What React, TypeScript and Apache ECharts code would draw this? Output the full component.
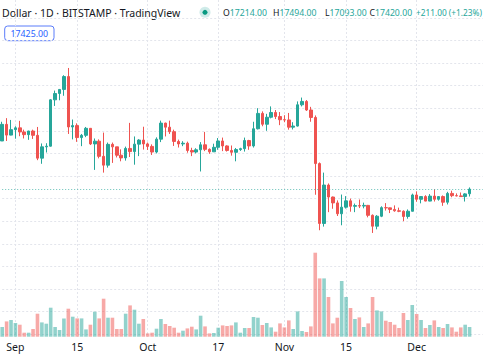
import React, { useEffect, useRef } from "react";
import * as echarts from "echarts";

const dates = [
  "2022-08-29", "2022-08-30", "2022-08-31",
  "2022-09-01", "2022-09-02", "2022-09-03", "2022-09-04", "2022-09-05", "2022-09-06", "2022-09-07", "2022-09-08", "2022-09-09", "2022-09-10",
  "2022-09-11", "2022-09-12", "2022-09-13", "2022-09-14", "2022-09-15", "2022-09-16", "2022-09-17", "2022-09-18", "2022-09-19", "2022-09-20",
  "2022-09-21", "2022-09-22", "2022-09-23", "2022-09-24", "2022-09-25", "2022-09-26", "2022-09-27", "2022-09-28", "2022-09-29", "2022-09-30",
  "2022-10-01", "2022-10-02", "2022-10-03", "2022-10-04", "2022-10-05", "2022-10-06", "2022-10-07", "2022-10-08", "2022-10-09", "2022-10-10",
  "2022-10-11", "2022-10-12", "2022-10-13", "2022-10-14", "2022-10-15", "2022-10-16", "2022-10-17", "2022-10-18", "2022-10-19", "2022-10-20",
  "2022-10-21", "2022-10-22", "2022-10-23", "2022-10-24", "2022-10-25", "2022-10-26", "2022-10-27", "2022-10-28", "2022-10-29", "2022-10-30", "2022-10-31",
  "2022-11-01", "2022-11-02", "2022-11-03", "2022-11-04", "2022-11-05", "2022-11-06", "2022-11-07", "2022-11-08", "2022-11-09", "2022-11-10",
  "2022-11-11", "2022-11-12", "2022-11-13", "2022-11-14", "2022-11-15", "2022-11-16", "2022-11-17", "2022-11-18", "2022-11-19", "2022-11-20",
  "2022-11-21", "2022-11-22", "2022-11-23", "2022-11-24", "2022-11-25", "2022-11-26", "2022-11-27", "2022-11-28", "2022-11-29", "2022-11-30",
  "2022-12-01", "2022-12-02", "2022-12-03", "2022-12-04", "2022-12-05", "2022-12-06", "2022-12-07", "2022-12-08", "2022-12-09", "2022-12-10",
  "2022-12-11", "2022-12-12", "2022-12-13",
];

const opens = [
  19550, 20285, 19810, 20050, 20130, 19950, 19830, 19990, 19800, 18790,
  19290, 19320, 21370, 21650, 21830, 22400, 20170, 20230, 19700, 19800,
  20110, 19420, 19540, 18870, 18480, 19400, 19290, 18920, 18800, 19220,
  19080, 19410, 19590, 19420, 19310, 19060, 19630, 20340, 20160, 19960,
  19530, 19420, 19450, 19130, 19060, 19160, 19380, 19180, 19070, 19270,
  19550, 19330, 19130, 19050, 19170, 19210, 19570, 19330, 20090, 20770,
  20290, 20600, 20810, 20630, 20490, 20480, 20160, 20210, 21150, 21300,
  20920, 20590, 18550, 15900, 17600, 17070, 16810, 16330, 16620, 16900,
  16660, 16690, 16670, 16700, 16260, 15780, 16220, 16600, 16590, 16520,
  16460, 16440, 16210, 16440, 17160, 16970, 17090, 16890, 17110, 16970,
  17090, 16840, 17230, 17130, 17120, 17090, 17214,
];
const highs = [
  20400, 20560, 20480, 20200, 20440, 20050, 20000, 20050, 20170, 19440,
  19450, 21400, 21780, 21850, 22460, 22780, 20500, 20330, 19860, 20170,
  20110, 19660, 19620, 19920, 19480, 19480, 19290, 19180, 19300, 20350,
  19750, 19630, 20180, 19480, 19400, 19710, 20450, 20360, 20450, 20050,
  19610, 19540, 19520, 19250, 19230, 19500, 19950, 19220, 19430, 19680,
  19700, 19360, 19350, 19240, 19250, 19700, 19600, 20400, 21000, 20860,
  20750, 21080, 20920, 20830, 20690, 20790, 20380, 21300, 21470, 21360,
  21060, 20680, 18600, 18150, 17670, 17090, 16920, 17180, 17110, 17000,
  16780, 16960, 16820, 16720, 16300, 16270, 16660, 16800, 16600, 16700,
  16600, 16480, 16520, 17220, 17320, 17100, 17150, 17200, 17410, 17100,
  17140, 17300, 17350, 17230, 17270, 17240, 17494,
];
const lows = [
  19550, 19550, 19800, 19650, 19760, 19660, 19600, 19640, 18700, 18540,
  19040, 19300, 21100, 21350, 21550, 19860, 19620, 19510, 19320, 19720,
  19370, 18270, 18780, 18150, 18370, 18580, 18820, 18650, 18680, 18840,
  18500, 18880, 19170, 19150, 18930, 19000, 19500, 19750, 19860, 19330,
  19260, 19320, 19030, 18880, 19000, 18200, 19100, 18980, 19070, 19160,
  19100, 19080, 18900, 18650, 19110, 19080, 19160, 19260, 20060, 20200,
  20000, 20550, 20520, 20250, 20380, 20050, 20060, 20190, 21080, 20880,
  20400, 17170, 15600, 15760, 16400, 16550, 16230, 15820, 16560, 16420,
  16400, 16580, 16570, 16170, 15480, 15640, 16180, 16470, 16360, 16420,
  16400, 16000, 16110, 16430, 16860, 16790, 16880, 16880, 16870, 16910,
  16680, 16740, 17060, 17100, 17070, 16870, 17093,
];
const closes = [
  20285, 19810, 20050, 20130, 19950, 19830, 19990, 19800, 18790, 19290,
  19320, 21370, 21650, 21830, 22400, 20170, 20230, 19700, 19800, 20110,
  19420, 19540, 18870, 18480, 19400, 19290, 18920, 18800, 19220, 19080,
  19410, 19590, 19420, 19310, 19060, 19630, 20340, 20160, 19960, 19530,
  19420, 19450, 19130, 19060, 19160, 19380, 19180, 19070, 19270, 19550,
  19330, 19130, 19050, 19170, 19210, 19570, 19330, 20090, 20770, 20290,
  20600, 20810, 20630, 20490, 20480, 20160, 20210, 21150, 21300, 20920,
  20590, 18550, 15900, 17600, 17070, 16810, 16330, 16620, 16900, 16660,
  16690, 16670, 16700, 16260, 15780, 16220, 16600, 16590, 16520, 16460,
  16440, 16210, 16440, 17160, 16970, 17090, 16890, 17110, 16970, 17090,
  16840, 17230, 17130, 17120, 17090, 17209, 17420,
];
const volumes = [
  3880, 6120, 6680, 5480, 4800, 1600, 1600, 3080, 9200, 5720,
  5200, 11600, 3880, 2680, 7320, 11200, 8000, 7320, 7320, 2920,
  4800, 10000, 7320, 15200, 7600, 7600, 3080, 3080, 9200, 12520,
  10800, 5200, 7080, 1320, 1600, 3200, 7080, 5080, 4280, 3600,
  1600, 2400, 3320, 4000, 2920, 8400, 4120, 1320, 1480, 3600,
  4520, 4280, 4520, 5720, 1600, 3480, 3480, 7880, 7600, 4680,
  5480, 3720, 2000, 5320, 3720, 6520, 3080, 10120, 2280, 1880,
  4120, 33600, 23320, 23320, 15880, 5320, 7600, 22280, 15880, 11480,
  7080, 7720, 3880, 5320, 15880, 10520, 10120, 6400, 5880, 4800,
  3480, 9480, 6680, 12680, 9080, 6680, 3480, 4680, 6520, 3880,
  3480, 5080, 3720, 2000, 3720, 4800, 3880,
];

const tickDates = ["2022-09-01", "2022-09-15", "2022-10-01", "2022-10-17", "2022-11-01", "2022-11-15", "2022-12-01"];
const tickTexts = ["Sep", "15", "Oct", "17", "Nov", "15", "Dec"];
const padSlots = ["pad-1", "pad-2", "pad-3"];
const headerTitle = "Dollar · 1D · BITSTAMP · TradingView";
const markerPrice = 17425;

const UP = "#26a69a";
const DOWN = "#ef5350";
const VOL_UP = "rgba(38,166,154,0.5)";
const VOL_DOWN = "rgba(239,83,80,0.5)";
const TEXT = "#131722";
const FONT = "Noto Sans";
const VAL_SIZE = 8.7;

export default function App() {
  const ref = useRef<HTMLDivElement>(null);

  useEffect(() => {
    document.body.style.margin = "0";
    const chart = echarts.init(ref.current!, null, { renderer: "svg" });
    const cats = dates.concat(padSlots);
    const ohlc = dates.map((_, i) => [opens[i], closes[i], lows[i], highs[i]]);
    const vol = dates.map((_, i) => ({
      value: volumes[i],
      itemStyle: { color: closes[i] >= opens[i] ? VOL_UP : VOL_DOWN },
    }));
    const isTick = (_idx: number, val: string) => tickDates.indexOf(val) >= 0;
    const n = dates.length - 1;
    const lastO = opens[n], lastH = highs[n], lastL = lows[n], lastC = closes[n];
    const chg = lastC - closes[n - 1];
    const pct = (chg / closes[n - 1]) * 100;
    const sign = chg >= 0 ? "+" : "";

    const tok = (x: number, label: string, value: string) => ({
      type: "text",
      x,
      y: 12.5,
      style: {
        text: `{l|${label}}{v|${value}}`,
        fontSize: VAL_SIZE,
        fontFamily: FONT,
        verticalAlign: "middle",
        rich: {
          l: { fill: TEXT, fontSize: VAL_SIZE, fontFamily: FONT },
          v: { fill: UP, fontSize: VAL_SIZE, fontFamily: FONT },
        },
      },
    });

    chart.setOption({
      animation: false,
      backgroundColor: "#ffffff",
      grid: [
        { left: 2.2, right: 2.2, top: 0, bottom: 23.3 },
        { left: 2.2, right: 2.2, top: 17.8, bottom: 25.8 },
      ],
      xAxis: [
        {
          type: "category",
          gridIndex: 0,
          data: cats,
          boundaryGap: false,
          axisLine: { show: false },
          axisTick: { show: false },
          axisLabel: {
            interval: isTick,
            formatter: (v: string) => tickTexts[tickDates.indexOf(v)] ?? "",
            color: TEXT,
            fontSize: 10.5,
            fontFamily: FONT,
            margin: 5,
          },
          splitLine: {
            show: true,
            interval: isTick,
            lineStyle: { color: "#e3e5ec", type: [2, 2], width: 1 },
          },
        },
        {
          type: "category",
          gridIndex: 1,
          data: cats,
          boundaryGap: false,
          show: false,
        },
      ],
      yAxis: [
        {
          type: "value",
          gridIndex: 0,
          min: 0,
          max: 134680,
          show: false,
          splitLine: { show: false },
        },
        {
          type: "value",
          gridIndex: 1,
          min: 11000,
          max: 25000,
          interval: 1000,
          position: "right",
          axisLine: { show: false },
          axisTick: { show: false },
          axisLabel: { show: false },
          splitLine: { show: true, lineStyle: { color: "#e3e5ec", type: [2, 2], width: 1 } },
        },
      ],
      series: [
        {
          type: "bar",
          xAxisIndex: 0,
          yAxisIndex: 0,
          data: vol,
          barWidth: 3.6,
          clip: false,
        },
        {
          type: "candlestick",
          xAxisIndex: 1,
          yAxisIndex: 1,
          data: ohlc,
          barWidth: 3,
          clip: false,
          itemStyle: {
            color: UP,
            color0: DOWN,
            borderColor: UP,
            borderColor0: DOWN,
            borderWidth: 1,
          },
          markLine: {
            silent: true,
            symbol: ["none", "none"],
            label: { show: false },
            lineStyle: { color: "rgba(38,166,154,0.7)", type: [1, 2], width: 1 },
            data: [{ yAxis: lastC }],
          },
        },
      ],
      graphic: [
        {
          type: "text",
          x: 2,
          y: 13,
          style: { text: headerTitle, fill: TEXT, fontSize: 10.5, fontFamily: FONT, verticalAlign: "middle" },
        },
        { type: "circle", shape: { cx: 205, cy: 12.3, r: 5.5 }, style: { fill: "rgba(38,166,154,0.22)" } },
        { type: "circle", shape: { cx: 205, cy: 12.3, r: 2.5 }, style: { fill: "#089981" } },
        tok(223, "O", lastO.toFixed(2)),
        tok(273, "H", lastH.toFixed(2)),
        tok(325, "L", lastL.toFixed(2)),
        tok(369.5, "C", lastC.toFixed(2)),
        {
          type: "text",
          x: 416,
          y: 12.5,
          style: {
            text: `${sign}${chg.toFixed(2)} (${sign}${pct.toFixed(2)}%)`,
            fill: UP,
            fontSize: 8.3,
            fontFamily: FONT,
            verticalAlign: "middle",
          },
        },
        {
          type: "rect",
          shape: { x: 4.7, y: 26, width: 49.3, height: 14.7, r: 3 },
          style: { fill: "#ffffff", stroke: "#5b7cfa", lineWidth: 1 },
        },
        {
          type: "text",
          x: 29.3,
          y: 33.5,
          style: {
            text: markerPrice.toFixed(2),
            fill: "#2962ff",
            fontSize: 8.8,
            fontFamily: FONT,
            align: "center",
            verticalAlign: "middle",
          },
        },
      ],
    });
    return () => chart.dispose();
  }, []);

  return <div ref={ref} style={{ position: "fixed", left: 0, top: 0, width: 485, height: 360 }} />;
}
